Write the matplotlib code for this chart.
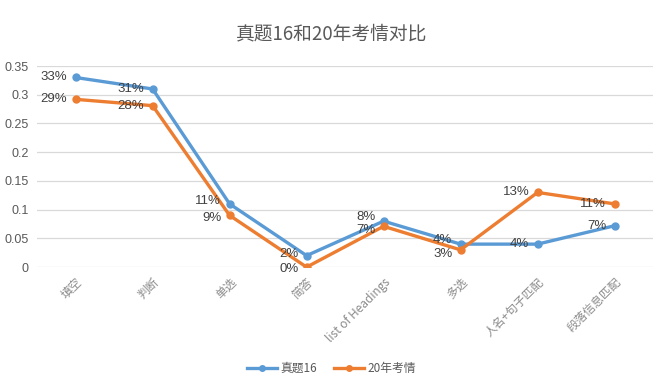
import matplotlib
matplotlib.use('Agg')
from matplotlib import pyplot as plt
import numpy as np

plt.rcParams['font.family'] = ['Noto Sans CJK SC', 'DejaVu Sans']

categories = ['填空', '判断', '单选', '简答', 'list of Headings', '多选', '人名+句子匹配', '段落信息匹配']
zhenti16 = [0.33, 0.31, 0.11, 0.02, 0.08, 0.04, 0.04, 0.072]
kaoqing20 = [0.292, 0.281, 0.09, 0.0, 0.071, 0.03, 0.13, 0.11]
yticks = [0, 0.05, 0.1, 0.15, 0.2, 0.25, 0.3, 0.35]

blue = '#5B9BD5'
orange = '#ED7D31'

fig = plt.figure(figsize=(6.63, 3.86), dpi=100)
ax = fig.add_axes([0.056, 0.308, 0.929, 0.521])

x = np.arange(len(categories))
ax.plot(x, zhenti16, color=blue, lw=2.4, marker='o', ms=5, label='真题16', zorder=3)
ax.plot(x, kaoqing20, color=orange, lw=2.4, marker='o', ms=5, label='20年考情', zorder=3)

# 数据标签放在点的左边，挤在一起的几处稍微上下错开
nudge = {2: 2, 3: 1.5, 4: 3, 5: 3}
lab_font = ['Liberation Sans', 'DejaVu Sans']
for xs, v in zip(x, zhenti16):
    ax.annotate('%d%%' % round(v * 100), (xs, v), xytext=(-6, nudge.get(xs, 0)), textcoords='offset points',
                ha='right', va='center', fontsize=9.5, color='#404040', family=lab_font)
for xs, v in zip(x, kaoqing20):
    ax.annotate('%d%%' % round(v * 100), (xs, v), xytext=(-6, -nudge.get(xs, 0)), textcoords='offset points',
                ha='right', va='center', fontsize=9.5, color='#404040', family=lab_font)

ax.set_xlim(-0.5, len(categories) - 0.5)
ax.set_ylim(0, 0.35)
ax.set_yticks(yticks)
ax.set_yticklabels(['%g' % t for t in yticks], fontsize=9, color='#595959', family=lab_font)
ax.set_xticks(x)
ax.set_xticklabels(categories, rotation=45, ha='right', rotation_mode='anchor',
                   fontsize=8.5, color='#8c8c8c')
ax.tick_params(length=0, pad=6)
ax.grid(axis='y', color='#d9d9d9', lw=0.9)
ax.set_axisbelow(True)
for s in ax.spines.values():
    s.set_visible(False)

fig.suptitle('真题16和20年考情对比', x=0.5, y=0.94, fontsize=13.5, color='#595959')
fig.legend(loc='center', bbox_to_anchor=(0.5, 0.045), ncol=2, frameon=False,
           fontsize=8.5, handlelength=2.5, markerscale=0.8, columnspacing=1.5, handletextpad=0.3,
           labelcolor='#595959')

plt.savefig('out.png')
